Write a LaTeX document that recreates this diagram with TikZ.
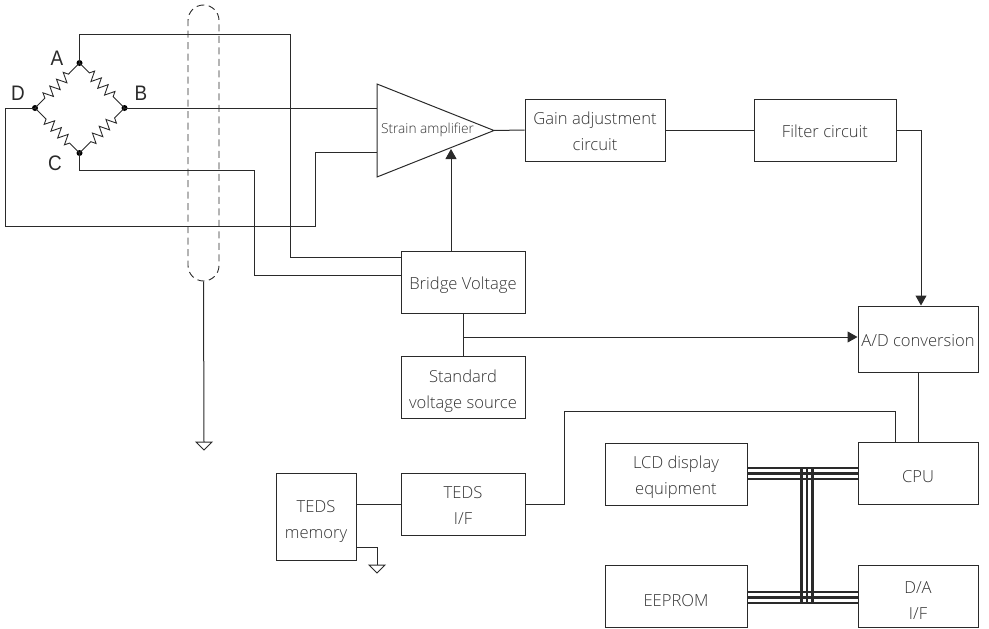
\documentclass[tikz,border=0pt]{standalone}
\usepackage{fontspec}
\setmainfont{Open Sans Light}[BoldFont=Open Sans]
\newfontfamily\labelfont{Liberation Sans}
\usetikzlibrary{arrows.meta,decorations.pathmorphing,calc}
\definecolor{ink}{HTML}{2A2A2A}
\definecolor{txt}{HTML}{333333}
\newcommand{\lbl}[2][-7pt]{\raisebox{#1}[0pt][0pt]{\begin{tabular}{@{}c@{}}#2\end{tabular}}}
\tikzset{
  wire/.style={draw=ink,line width=1pt},
  box/.style={draw=ink,line width=1pt,fill=white,text=txt,font=\fontsize{16.6}{26}\selectfont,inner sep=0pt},
  dot/.style={circle,fill=black,inner sep=0pt,minimum size=6pt},
  letter/.style={font=\labelfont\fontsize{21}{21}\selectfont,text=ink,inner sep=0pt,xscale=.9},
  res/.style={draw=ink,line width=.9pt,decorate,decoration={zigzag,segment length=9.6pt,amplitude=5pt,pre length=14pt,post length=14pt}},
  bus/.style={draw=ink,line width=2pt},
  busb/.style={draw=ink,line width=3pt},
  arr/.style={wire,-{Triangle[length=10pt,width=11pt,fill=ink]}},
  gnd/.style={draw=ink,line width=1pt,fill=white},
}
\begin{document}
\begin{tikzpicture}[x=1pt,y=-1pt]
\useasboundingbox (0,0) rectangle (989,629);
% shield
\node[draw=ink,line width=.9pt,dashed,dash pattern=on 7pt off 4.5pt,rounded corners=15.5pt,minimum width=31pt,minimum height=276pt,inner sep=0pt] (shield) at (203.5,143) {};
% bridge
\node[dot] (A) at (79.5,63) {};
\node[dot] (B) at (124.5,108) {};
\node[dot] (C) at (79.5,153) {};
\node[dot] (D) at (35,108) {};
\draw[res] (A.center) -- (B.center);
\draw[res] (B.center) -- (C.center);
\draw[res] (C.center) -- (D.center);
\draw[res] (D.center) -- (A.center);
\node[letter] (lA) at (57,58) {A};
\node[letter] (lB) at (141,93) {B};
\node[letter] (lC) at (55,163) {C};
\node[letter] (lD) at (18,93) {D};
% boxes
\coordinate (ampT) at (377,84);
\coordinate (ampB) at (377,177);
\coordinate (ampR) at (494,130.5);
\node[font=\fontsize{13.7}{14}\selectfont,text=txt,inner sep=0pt] (amp) at (427.5,130) {Strain amplifier};
\node[box,minimum width=140pt,minimum height=62pt] (gain) at (595,130) {\lbl{Gain adjustment\\circuit}};
\node[box,minimum width=142pt,minimum height=62pt] (filter) at (825,130) {\lbl{Filter circuit}};
\node[box,minimum width=120pt,minimum height=66pt] (ad) at (918,339) {\lbl{A/D conversion}};
\node[box,minimum width=124pt,minimum height=62pt] (bridge) at (463,282) {\lbl{Bridge Voltage}};
\node[box,minimum width=124pt,minimum height=62pt] (std) at (463,387) {\lbl[-7.5pt]{Standard\\voltage source}};
\node[box,minimum width=124pt,minimum height=62pt] (tedsif) at (463,504) {\lbl{TEDS\\I/F}};
\node[box,minimum width=80pt,minimum height=87pt] (tedsmem) at (316,516.5) {\lbl[-8pt]{TEDS\\memory}};
\node[box,minimum width=142pt,minimum height=62pt] (lcd) at (676,474) {\lbl{LCD display\\equipment}};
\node[box,minimum width=142pt,minimum height=62pt] (eeprom) at (676,596) {\lbl[-9.5pt]{EEPROM}};
\node[box,minimum width=120pt,minimum height=62pt] (cpu) at (918,473) {\lbl[-8.5pt]{CPU}};
\node[box,minimum width=120pt,minimum height=62pt] (da) at (918,596) {\lbl[-9.5pt]{D/A\\I/F}};
% amp triangle
\draw[wire,line join=miter] (ampT) -- (ampR) -- (ampB) -- cycle;
% wires
\coordinate (ampIn1) at (377,108);
\coordinate (ampIn2) at (377,152);
\draw[wire] (A.center) |- (290,34) |- ([yshift=25pt]bridge.west);
\draw[wire] (B.center) -- (ampIn1);
\draw[wire] (C.center) |- (254,170) |- ([yshift=7pt]bridge.west);
\draw[wire] (D.center) -- (5,108) |- (315,226) |- (ampIn2);
\draw[wire] (ampR) -- (gain.west);
\draw[wire] (gain.east) -- (filter.west);
\draw[arr] (filter.east) -| ([xshift=3pt]ad.north);
\coordinate (ampArrow) at (451,149);
\draw[arr] ([xshift=-12pt]bridge.north) -- (ampArrow);
\draw[wire] (bridge.south) -- (std.north);
\coordinate (tap) at (463,337);
\draw[arr] (tap) -- (ad.west |- tap);
\draw[wire] (ad.south) -- (cpu.north);
\draw[wire] ([xshift=-23pt]cpu.north) |- (564,411) |- (tedsif.east);
\draw[wire] (tedsmem.east |- tedsif.west) -- (tedsif.west);
% grounds
\coordinate (g1) at (204,442);
\draw[wire] (shield.south) -- (g1);
\draw[gnd] (196,442) -- (212,442) -- (204,450) -- cycle;
\coordinate (g2) at (377,565);
\draw[wire] ([yshift=-30.5pt]tedsmem.east) -| (g2);
\draw[gnd] (369,565) -- (385,565) -- (377,573) -- cycle;
% buses
\foreach \yy/\st in {468/bus,473.3/busb,478.5/bus}{
  \coordinate (p) at (0,\yy);
  \draw[\st] (lcd.east |- p) -- (cpu.west |- p);
}
\foreach \yy/\st in {592/bus,597.3/busb,602.5/bus}{
  \coordinate (p) at (0,\yy);
  \draw[\st] (eeprom.east |- p) -- (da.west |- p);
}
\foreach \xx in {801.8,807,812.6}{
  \draw[draw=ink,line width=2.8pt] (\xx,467) -- (\xx,603.5);
}
\end{tikzpicture}
\end{document}
